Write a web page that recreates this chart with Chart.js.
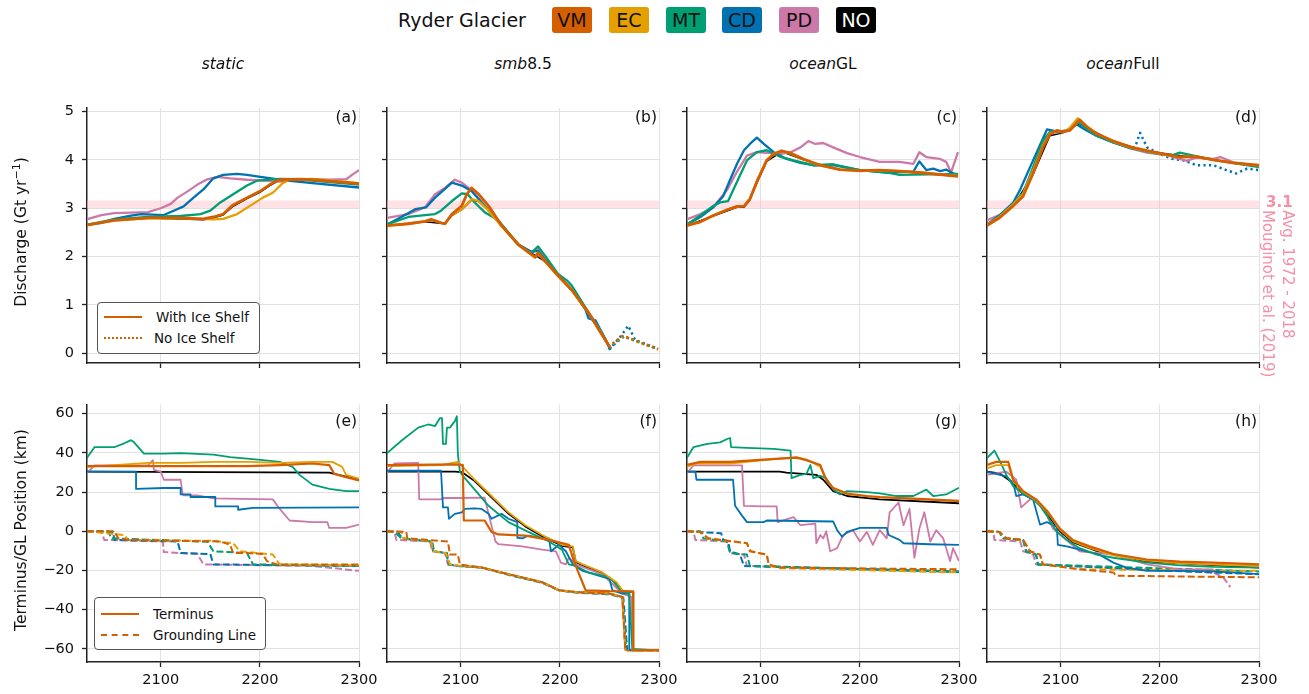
<!DOCTYPE html>
<html>
<head>
<meta charset="utf-8">
<script src="https://cdn.jsdelivr.net/npm/chart.js@4.4.1/dist/chart.umd.min.js"></script>
<style>
  body { margin:0; background:#fff; font-family:"DejaVu Sans", sans-serif; width:1309px; height:694px; position:relative; overflow:hidden; color:#111; }
  canvas { position:absolute; }
  .abs { position:absolute; white-space:nowrap; }
  .key { position:absolute; top:7px; width:40px; height:26px; line-height:26px; border-radius:3px; text-align:center; font-size:19px; }
  .coltitle { position:absolute; top:55px; width:200px; text-align:center; font-size:15.5px; }
  .plabel { position:absolute; width:60px; text-align:right; font-size:15.5px; line-height:20px; }
  .ylab { position:absolute; font-size:15.5px; transform:translate(-50%,-50%) rotate(-90deg); white-space:nowrap; }
  .leg { position:absolute; border:1px solid #555; border-radius:4px; background:#fff; }
  .leg .ln { position:absolute; left:6px; width:38px; height:0; }
  .leg .lt { position:absolute; left:58px; font-size:13.5px; line-height:16px; }
  .moug { position:absolute; color:#f78fa7; font-size:15px; }
</style>
</head>
<body>

<div class="abs" style="left:398px;top:7px;font-size:19px;line-height:26px;">Ryder Glacier</div>
<div id="keys"></div>
<div id="titles"></div>

<div class="ylab" style="left:20px;top:232px;">Discharge (Gt yr<sup style="font-size:11px">−1</sup>)</div>
<div class="ylab" style="left:21px;top:530px;">Terminus/GL Position (km)</div>

<div class="leg" style="left:97px;top:302px;width:161px;height:50px;">
  <div class="ln" style="top:13px;border-top:2.5px solid #D55E00;"></div>
  <div class="lt" style="top:6px;">With Ice Shelf</div>
  <div class="ln" style="top:34px;border-top:2.5px dotted #D55E00;"></div>
  <div class="lt" style="top:27px;left:56px;">No Ice Shelf</div>
</div>
<div class="leg" style="left:94px;top:597px;width:170px;height:51px;">
  <div class="ln" style="top:15px;border-top:2.5px solid #D55E00;"></div>
  <div class="lt" style="top:8px;">Terminus</div>
  <div class="ln" style="top:36px;border-top:2.5px dashed #D55E00;"></div>
  <div class="lt" style="top:29px;">Grounding Line</div>
</div>

<div class="moug" style="left:1266px;top:193px;font-weight:bold;font-size:15px;">3.1</div>
<div class="moug" style="left:1258px;top:210px;writing-mode:vertical-rl;line-height:20px;">Avg. 1972 - 2018<br>Mouginot et al. (2019)</div>

<script>
// ---------------- data ----------------
const models = ['VM', 'EC', 'MT', 'CD', 'PD', 'NO'];
const modelColors = ['#D55E00', '#E69F00', '#009E73', '#0072B2', '#CC79A7', '#000000'];
const scenarioItalic = ['static', 'smb', 'ocean', 'ocean'];
const scenarioRest = ['', '8.5', 'GL', 'Full'];
const panelLetters = ['a', 'b', 'c', 'd', 'e', 'f', 'g', 'h'];
const xTicks = [2100, 2200, 2300];
const dischargeTicks = [0, 1, 2, 3, 4, 5];
const positionTicks = [60, 40, 20, 0, -20, -40, -60];
const mouginotBand = [3.0, 3.16];

// (a) static - discharge
const a_VM = [[2025,2.65],[2053,2.75],[2087,2.8],[2120,2.8],[2143,2.78],[2153,2.82],[2163,2.88],[2173,3.07],[2187,3.22],[2200,3.35],[2210,3.49],[2220,3.59],[2240,3.6],[2253,3.59],[2300,3.51]];
const a_EC = [[2025,2.65],[2053,2.75],[2087,2.79],[2120,2.79],[2153,2.77],[2163,2.78],[2177,2.88],[2190,3.05],[2203,3.22],[2213,3.32],[2223,3.52],[2230,3.59],[2253,3.61],[2300,3.52]];
const a_MT = [[2025,2.66],[2053,2.77],[2087,2.82],[2120,2.84],[2140,2.88],[2150,2.95],[2160,3.12],[2173,3.29],[2187,3.47],[2197,3.57],[2220,3.61],[2237,3.6],[2253,3.57],[2300,3.49]];
const a_CD = [[2025,2.66],[2040,2.7],[2053,2.78],[2070,2.85],[2080,2.88],[2103,2.86],[2113,2.95],[2123,3.04],[2133,3.22],[2143,3.39],[2153,3.62],[2163,3.69],[2177,3.71],[2187,3.69],[2197,3.66],[2220,3.59],[2253,3.52],[2300,3.43]];
const a_PD = [[2025,2.77],[2040,2.86],[2053,2.9],[2087,2.92],[2100,3.0],[2110,3.09],[2117,3.22],[2127,3.35],[2137,3.49],[2147,3.6],[2157,3.65],[2170,3.62],[2187,3.59],[2203,3.57],[2220,3.55],[2237,3.59],[2253,3.6],[2270,3.59],[2287,3.6],[2293,3.69],[2300,3.79]];
const a_NO = [[2025,2.65],[2053,2.75],[2087,2.8],[2143,2.76],[2153,2.8],[2163,2.86],[2173,3.04],[2187,3.2],[2200,3.33],[2210,3.47],[2220,3.58],[2240,3.6],[2300,3.5]];

// (b) smb8.5 - discharge
const b_VM = [[2025,2.64],[2047,2.68],[2064,2.73],[2070,2.77],[2080,2.7],[2084,2.68],[2091,2.88],[2101,3.05],[2106,3.29],[2111,3.42],[2118,3.29],[2128,3.05],[2141,2.65],[2158,2.25],[2175,1.99],[2178,2.08],[2185,1.91],[2198,1.61],[2212,1.31],[2229,0.84],[2239,0.5],[2249,0.17],[2251,0.12]];
const b_EC = [[2025,2.64],[2047,2.68],[2064,2.73],[2070,2.76],[2080,2.7],[2084,2.69],[2091,2.86],[2101,2.98],[2111,3.19],[2118,3.15],[2128,2.95],[2141,2.63],[2158,2.24],[2175,1.98],[2178,2.06],[2185,1.9],[2198,1.6],[2212,1.3],[2229,0.83],[2239,0.5],[2249,0.17],[2251,0.12]];
const b_MT = [[2025,2.66],[2047,2.82],[2064,2.86],[2074,2.88],[2080,2.95],[2091,3.15],[2101,3.31],[2107,3.29],[2114,3.12],[2124,2.92],[2138,2.75],[2158,2.25],[2171,2.08],[2178,2.21],[2185,2.02],[2198,1.64],[2207,1.51],[2212,1.4],[2229,0.84],[2242,0.44],[2251,0.1]];
const b_CD = [[2025,2.66],[2040,2.82],[2054,2.98],[2065,3.02],[2074,3.22],[2084,3.4],[2091,3.53],[2101,3.47],[2111,3.35],[2124,3.05],[2141,2.65],[2158,2.25],[2171,2.1],[2178,2.12],[2185,1.93],[2198,1.62],[2215,1.24],[2225,0.95],[2229,0.72],[2236,0.68],[2242,0.44],[2251,0.07]];
const b_PD = [[2025,2.8],[2047,2.88],[2064,3.02],[2074,3.29],[2084,3.42],[2094,3.59],[2101,3.53],[2111,3.37],[2124,3.05],[2141,2.65],[2158,2.25],[2171,2.1],[2178,2.15],[2185,1.95],[2198,1.64],[2215,1.24],[2229,0.84],[2242,0.44],[2251,0.1]];
const b_NO = [[2025,2.64],[2064,2.72],[2084,2.68],[2091,2.85],[2101,2.97],[2111,3.17],[2118,3.14],[2128,2.95],[2141,2.63],[2158,2.24],[2185,1.9],[2212,1.3],[2239,0.5],[2251,0.12]];
const b_VM_ns = [[2249,0.13],[2256,0.25],[2264,0.37],[2269,0.32],[2282,0.22],[2299,0.09]];
const b_EC_ns = [[2249,0.12],[2256,0.24],[2264,0.36],[2270,0.31],[2282,0.21],[2299,0.08]];
const b_MT_ns = [[2250,0.1],[2257,0.23],[2265,0.35],[2271,0.3],[2283,0.2],[2299,0.09]];
const b_CD_ns = [[2249,0.08],[2255,0.2],[2262,0.37],[2269,0.57],[2276,0.27],[2282,0.23],[2299,0.09]];
const b_PD_ns = [[2250,0.1],[2257,0.22],[2264,0.35],[2270,0.3],[2283,0.21],[2299,0.09]];

// (c) oceanGL - discharge
const c_VM = [[2025,2.64],[2039,2.72],[2052,2.85],[2066,2.97],[2076,3.04],[2083,3.04],[2089,3.19],[2096,3.55],[2106,3.99],[2113,4.12],[2121,4.19],[2130,4.14],[2143,4.02],[2160,3.89],[2180,3.8],[2200,3.78],[2220,3.79],[2240,3.77],[2260,3.74],[2299,3.66]];
const c_EC = [[2025,2.65],[2039,2.72],[2052,2.85],[2066,2.97],[2076,3.03],[2083,3.05],[2089,3.2],[2096,3.56],[2106,4.0],[2113,4.13],[2121,4.18],[2130,4.13],[2143,4.01],[2160,3.88],[2180,3.8],[2200,3.77],[2220,3.79],[2240,3.77],[2260,3.74],[2299,3.67]];
const c_MT = [[2025,2.66],[2039,2.85],[2052,3.05],[2059,3.12],[2067,3.15],[2076,3.55],[2086,3.99],[2096,4.16],[2106,4.2],[2119,4.07],[2133,3.99],[2153,3.89],[2173,3.91],[2200,3.79],[2227,3.74],[2240,3.69],[2299,3.71]];
const c_CD = [[2025,2.66],[2039,2.82],[2052,3.02],[2062,3.25],[2069,3.59],[2076,3.92],[2083,4.2],[2089,4.33],[2096,4.46],[2103,4.33],[2113,4.16],[2126,4.02],[2140,3.94],[2153,3.89],[2173,3.89],[2200,3.79],[2227,3.74],[2254,3.76],[2260,3.97],[2267,3.79],[2274,3.82],[2281,3.77],[2287,3.8],[2294,3.72],[2299,3.69]];
const c_PD = [[2025,2.77],[2039,2.88],[2052,3.02],[2066,3.38],[2076,3.76],[2086,4.09],[2096,4.16],[2109,4.14],[2119,4.12],[2130,4.16],[2140,4.26],[2148,4.39],[2155,4.33],[2163,4.35],[2173,4.26],[2187,4.14],[2200,4.06],[2220,3.96],[2240,3.96],[2254,3.92],[2260,4.16],[2267,4.06],[2281,4.02],[2287,3.96],[2292,3.74],[2299,4.16]];
const c_NO = [[2025,2.64],[2052,2.84],[2076,3.02],[2083,3.02],[2089,3.17],[2096,3.52],[2106,3.97],[2121,4.17],[2143,4.0],[2180,3.79],[2240,3.76],[2299,3.66]];

// (d) oceanFull - discharge
const d_VM = [[2025,2.64],[2038,2.8],[2052,3.05],[2062,3.25],[2072,3.72],[2082,4.26],[2089,4.53],[2096,4.61],[2102,4.58],[2109,4.61],[2116,4.76],[2119,4.83],[2126,4.69],[2136,4.54],[2153,4.39],[2170,4.27],[2187,4.19],[2207,4.11],[2220,4.06],[2237,4.07],[2254,4.0],[2274,3.94],[2300,3.89]];
const d_EC = [[2025,2.65],[2038,2.82],[2052,3.08],[2062,3.3],[2072,3.78],[2082,4.3],[2089,4.55],[2096,4.6],[2102,4.57],[2109,4.66],[2117,4.86],[2126,4.7],[2136,4.55],[2153,4.38],[2170,4.26],[2187,4.18],[2207,4.1],[2220,4.06],[2237,4.07],[2254,4.0],[2274,3.94],[2300,3.88]];
const d_MT = [[2025,2.65],[2038,2.82],[2052,3.1],[2062,3.32],[2072,3.85],[2082,4.4],[2089,4.58],[2096,4.6],[2102,4.58],[2109,4.62],[2116,4.8],[2126,4.65],[2136,4.5],[2153,4.36],[2170,4.25],[2187,4.17],[2200,4.12],[2213,4.1],[2220,4.15],[2227,4.12],[2254,4.0],[2300,3.85]];
const d_CD = [[2025,2.66],[2038,2.85],[2052,3.12],[2059,3.39],[2072,3.99],[2086,4.63],[2091,4.61],[2096,4.58],[2106,4.61],[2116,4.73],[2126,4.61],[2136,4.5],[2153,4.36],[2173,4.23]];
const d_PD = [[2025,2.75],[2038,2.86],[2052,3.08],[2062,3.3],[2072,3.8],[2082,4.35],[2089,4.58],[2096,4.57],[2102,4.58],[2109,4.62],[2117,4.8],[2126,4.66],[2136,4.5],[2153,4.36],[2170,4.24],[2187,4.15],[2207,4.1],[2220,4.02],[2227,3.98],[2237,4.05],[2254,4.02],[2261,4.06],[2274,3.95],[2300,3.87]];
const d_NO = [[2025,2.64],[2052,3.05],[2072,3.7],[2089,4.5],[2102,4.56],[2116,4.74],[2126,4.68],[2153,4.38],[2187,4.18],[2254,4.0],[2300,3.88]];
const d_CD_ns = [[2173,4.23],[2176,4.33],[2180,4.56],[2187,4.26],[2200,4.12],[2213,4.02],[2224,3.99],[2237,3.89],[2254,3.89],[2267,3.79],[2277,3.72],[2288,3.82],[2300,3.79]];

// (e) static - terminus / grounding line
const e_VM = [[2025,33.3],[2087,33.3],[2187,33.3],[2220,33.8],[2253,34.6],[2270,33.8],[2275,29.3],[2287,27.6],[2300,26]];
const e_EC = [[2025,32.9],[2053,33.8],[2087,34.9],[2120,34.9],[2153,35.4],[2187,35.4],[2220,34.9],[2253,35.4],[2273,35.4],[2283,32.9],[2287,28.8],[2300,26.8]];
const e_MT = [[2025,37.1],[2033,42.9],[2053,42.9],[2063,44.9],[2070,46.5],[2073,45.4],[2083,39.6],[2103,39.6],[2120,39.9],[2153,39.1],[2170,37.9],[2187,37.1],[2203,36.3],[2220,35.4],[2233,32.9],[2240,28.8],[2253,23.8],[2270,21.7],[2287,20.5],[2300,20.5]];
const e_CD = [[2025,30.4],[2075,30.4],[2075,21.6],[2103,22.1],[2120,22.1],[2120,18.8],[2130,18.8],[2130,17.5],[2155,17.5],[2155,12.7],[2178,12.7],[2178,11],[2193,12],[2300,12.2]];
const e_PD = [[2025,29.3],[2033,33.6],[2087,33.6],[2092,36.3],[2093,31.3],[2100,30.4],[2103,26.3],[2120,26.3],[2122,18.8],[2123,18.3],[2137,18.3],[2153,16.8],[2213,16.3],[2220,11.4],[2230,5.5],[2253,4.7],[2268,4.7],[2270,1.7],[2287,1.7],[2300,3.4]];
const e_NO = [[2025,30.4],[2270,29.9],[2275,29.3],[2300,26.3]];
const e_VM_gl = [[2025,0],[2053,0],[2057,-3.6],[2067,-4.4],[2120,-4.9],[2160,-5.2],[2170,-6.9],[2173,-11.1],[2187,-11.1],[2203,-11.6],[2207,-15.2],[2217,-16.9],[2300,-16.9]];
const e_EC_gl = [[2025,0],[2063,-1.9],[2067,-4.4],[2153,-4.9],[2173,-6.1],[2180,-10.2],[2213,-11.9],[2220,-16.9],[2300,-17.4]];
const e_MT_gl = [[2025,0],[2047,0],[2050,-3.6],[2147,-5.3],[2153,-10.2],[2187,-11.1],[2193,-16.9],[2300,-17.7]];
const e_CD_gl = [[2025,0],[2052,-0.3],[2053,-4.4],[2117,-5.2],[2120,-11.1],[2150,-11.6],[2153,-16.9],[2300,-17.7]];
const e_PD_gl = [[2025,0],[2040,-0.3],[2043,-4.4],[2102,-5.2],[2103,-10.6],[2137,-11.6],[2143,-16.9],[2253,-17.7],[2300,-20.2]];

// (f) smb8.5 - terminus / grounding line
const f_VM = [[2025,33.8],[2097,34.1],[2102,33.8],[2103,5.5],[2124,5.5],[2131,-0.3],[2138,-1.6],[2165,-2.2],[2189,-4.4],[2209,-6.9],[2213,-13.5],[2218,-20.2],[2226,-30.1],[2250,-30.5],[2274,-30.6],[2274,-60.8],[2300,-60.8]];
const f_EC = [[2025,33.3],[2080,33.8],[2097,35.4],[2102,32.9],[2114,26.3],[2131,18],[2148,9.7],[2165,3.1],[2182,-1.9],[2202,-6.9],[2213,-7.7],[2216,-15.2],[2223,-16.9],[2243,-21],[2257,-26],[2263,-30.1],[2274,-31],[2274,-60.8],[2300,-60.8]];
const f_MT = [[2025,39.6],[2040,46.2],[2057,52.9],[2067,54.5],[2074,53.7],[2079,57.8],[2081,57.8],[2082,44.6],[2085,44.6],[2086,52.9],[2089,52.9],[2094,56.2],[2096,58.7],[2097,39.6],[2099,30.4],[2104,27.1],[2114,21.3],[2128,13],[2148,4.7],[2168,-0.3],[2189,-5.2],[2202,-9.4],[2209,-16.9],[2216,-17.7],[2229,-21],[2250,-23.5],[2263,-31],[2270,-31.8],[2273,-60],[2300,-60.8]];
const f_CD = [[2025,30.9],[2080,30.9],[2082,12.2],[2087,12.2],[2088,6.4],[2094,8.9],[2101,9.7],[2104,11.4],[2114,11.7],[2121,11.4],[2128,8.9],[2131,6.4],[2141,8.9],[2148,6.4],[2157,4.7],[2157,-3.3],[2162,-3.6],[2168,-2.2],[2175,-2.8],[2189,-3.6],[2191,-10.2],[2199,-6.9],[2206,-10.2],[2213,-16.9],[2223,-20.2],[2250,-24.3],[2253,-30.1],[2263,-31.8],[2270,-31.8],[2270,-60],[2272,-60.8]];
const f_PD = [[2025,29.6],[2033,34.6],[2057,34.9],[2058,16.3],[2080,16.3],[2082,17],[2099,17],[2124,17.2],[2128,8.9],[2135,-5.2],[2138,-6.6],[2162,-7.7],[2182,-9.4],[2196,-10.2],[2201,-16],[2206,-16.9],[2209,-13.5],[2216,-16.9],[2243,-22],[2263,-31.8],[2272,-33.5],[2274,-60],[2274,-60.8]];
const f_NO = [[2025,30.4],[2094,30.4],[2101,30.2],[2114,25.6],[2131,17.3],[2148,9],[2165,2.5],[2182,-2.5],[2202,-7.4],[2213,-8.2],[2216,-15.6],[2223,-17.4],[2243,-21.5],[2257,-26.4],[2263,-30.4],[2274,-31.2],[2274,-60.8]];
const f_VM_gl = [[2025,0],[2045,-0.3],[2046,-3.6],[2067,-4.4],[2087,-5.2],[2089,-11.9],[2097,-11.9],[2099,-16.9],[2121,-18.5],[2148,-21.9],[2182,-26],[2199,-30.1],[2216,-31],[2250,-31.8],[2263,-33.5],[2266,-60.8],[2300,-60.8]];
const f_EC_gl = [[2025,0],[2040,-0.3],[2042,-3.6],[2070,-5],[2072,-10.2],[2085,-11.1],[2089,-16.9],[2100,-17.7],[2121,-18.5],[2148,-21.9],[2182,-26],[2199,-30.1],[2216,-31],[2250,-31.8],[2263,-33.5],[2266,-60.8]];
const f_MT_gl = [[2025,0],[2033,-0.3],[2040,-3.6],[2053,-4.4],[2070,-5.2],[2072,-10.2],[2085,-11.1],[2088,-16.9],[2097,-17.7],[2121,-18.5],[2148,-21.9],[2182,-26],[2199,-30.1],[2216,-31],[2250,-31.8],[2263,-33.5],[2267,-60.8]];
const f_CD_gl = [[2025,0],[2036,-0.3],[2041,-3.6],[2055,-4.4],[2071,-5.2],[2073,-10.2],[2086,-11.1],[2088,-16.9],[2098,-17.7],[2121,-18.5],[2148,-22.2],[2182,-26.3],[2199,-30.1],[2216,-31.3],[2250,-32.2],[2264,-33.8],[2268,-60.8]];
const f_PD_gl = [[2025,0],[2033,-0.3],[2035,-4.4],[2069,-5.2],[2071,-10.2],[2084,-11.1],[2087,-16.9],[2097,-17.7],[2121,-18.5],[2148,-21.9],[2182,-26],[2199,-30.1],[2216,-31],[2250,-31.8],[2263,-33.5],[2266,-60.8]];

// (g) oceanGL - terminus / grounding line
const g_VM = [[2025,33.8],[2039,35.4],[2069,35.4],[2103,36.6],[2119,37.1],[2136,37.6],[2146,36.3],[2160,33.8],[2166,26.3],[2173,22.1],[2187,19.3],[2207,18],[2220,17.5],[2254,16.7],[2300,15.5]];
const g_EC = [[2025,32.9],[2036,34.6],[2069,34.6],[2103,36.3],[2136,37.9],[2146,36.6],[2160,32.9],[2166,26],[2173,22],[2187,19],[2207,17.8],[2220,17.3],[2254,16.5],[2300,15.3]];
const g_MT = [[2025,37.1],[2032,42.9],[2046,44.6],[2059,45.4],[2066,47.1],[2069,47.6],[2070,42.9],[2086,42.6],[2113,42.1],[2130,41.2],[2131,27.1],[2140,28.8],[2146,29.3],[2150,33.8],[2153,27.1],[2160,28.3],[2166,27.1],[2173,21.3],[2180,18.8],[2187,20.5],[2207,20],[2220,19.3],[2237,18],[2254,18],[2267,21.3],[2274,18],[2287,18.8],[2300,22.2]];
const g_CD = [[2025,30.4],[2034,30.4],[2035,26.3],[2072,26.3],[2074,13],[2081,8],[2086,4.7],[2103,4.7],[2106,5.5],[2173,5],[2177,0.6],[2182,-2.8],[2187,-0.3],[2193,0.6],[2200,1.7],[2227,1.7],[2229,-1.9],[2240,-4.4],[2244,-6.1],[2270,-6.6],[2300,-6.9]];
const g_PD = [[2025,29.3],[2032,33.6],[2081,33.6],[2083,13],[2103,12.7],[2116,12.7],[2117,4.7],[2133,7.2],[2140,3.1],[2155,3.9],[2156,-6.1],[2160,-1.9],[2163,-3.6],[2166,0],[2170,-10.2],[2177,-8.6],[2183,-1.9],[2193,0.6],[2200,-5.2],[2207,-0.3],[2213,-6.9],[2220,0.6],[2227,-3.6],[2230,9.7],[2239,14.7],[2244,3.1],[2250,11.4],[2255,-13.5],[2260,1.4],[2265,9.7],[2271,-5.2],[2277,0.6],[2284,-3.6],[2291,-15.2],[2294,-8.6],[2300,-15.2]];
const g_NO = [[2025,30.4],[2119,30.4],[2126,29.9],[2156,28.8],[2163,26.3],[2173,20.5],[2187,18],[2220,16.3],[2300,14.3]];
const g_VM_gl = [[2025,0],[2039,-0.3],[2047,-3.6],[2086,-6.1],[2089,-10.2],[2106,-11.9],[2108,-16.9],[2119,-18.5],[2300,-19.4]];
const g_EC_gl = [[2025,0],[2039,-0.3],[2046,-3.6],[2086,-6.1],[2090,-10.2],[2106,-11.9],[2108,-17.4],[2119,-18.8],[2300,-21]];
const g_MT_gl = [[2025,0],[2039,0],[2042,-3.6],[2066,-5.2],[2069,-11.1],[2086,-11.9],[2089,-17.7],[2300,-20.5]];
const g_CD_gl = [[2025,0],[2060,-1],[2062,-4.4],[2067,-4.9],[2069,-10.2],[2079,-11.9],[2083,-17.7],[2300,-20.8]];
const g_PD_gl = [[2025,0],[2032,-0.3],[2034,-4.4],[2066,-5.2],[2069,-11.1],[2083,-11.9],[2086,-17.7],[2300,-20.5]];

// (h) oceanFull - terminus / grounding line
const h_VM = [[2025,33.8],[2035,35.4],[2047,35.4],[2052,26.3],[2062,20.5],[2075,16.3],[2086,10.5],[2099,1.4],[2112,-4.4],[2129,-7.7],[2153,-11.6],[2187,-14.4],[2220,-15.5],[2254,-16],[2300,-16.9]];
const h_EC = [[2025,32.1],[2035,33.8],[2047,33.8],[2052,25.5],[2062,20],[2075,15.8],[2086,10],[2099,0.8],[2112,-5],[2129,-8.5],[2153,-12.3],[2187,-15],[2220,-16.3],[2254,-17],[2300,-17.7]];
const h_MT = [[2025,37.1],[2033,41.2],[2038,36.3],[2045,28.8],[2052,23],[2062,19.3],[2072,16.3],[2079,13],[2086,8],[2096,-0.3],[2106,-4.4],[2119,-8.6],[2136,-11.9],[2153,-13.5],[2187,-16],[2220,-17.4],[2254,-18.2],[2300,-18.5]];
const h_CD = [[2025,30.4],[2045,28],[2052,24.6],[2055,18],[2062,18.8],[2072,16.3],[2079,3.4],[2086,4.7],[2096,2.2],[2097,-6.9],[2106,-7.7],[2119,-9.4],[2139,-11.9],[2153,-16],[2166,-18.5],[2187,-20.2],[2220,-20.2],[2254,-20.5],[2300,-21.9]];
const h_PD = [[2025,28.8],[2045,30.4],[2055,26.3],[2060,12.2],[2069,16.3],[2075,16.3],[2086,8],[2092,1.4],[2119,-10.2],[2153,-11.9],[2187,-16.9],[2220,-19.4],[2254,-19.4]];
const h_NO = [[2025,30.4],[2038,29.6],[2052,24.6],[2062,19],[2075,15.5],[2086,9],[2099,0],[2112,-5.5],[2136,-10],[2187,-15.5],[2300,-18.5]];
const h_VM_gl = [[2025,0],[2038,-0.3],[2045,-3.6],[2062,-4.4],[2069,-10.2],[2079,-11.9],[2082,-16.9],[2119,-19.4],[2153,-21],[2156,-22.7],[2300,-23.5]];
const h_EC_gl = [[2025,0],[2038,-0.3],[2045,-3.6],[2062,-4.4],[2069,-10.2],[2079,-11.9],[2082,-16.9],[2119,-19.4],[2300,-20.2]];
const h_MT_gl = [[2025,0],[2038,-0.3],[2042,-3.6],[2062,-4.4],[2065,-10.2],[2075,-11.9],[2077,-16.9],[2300,-20.5]];
const h_CD_gl = [[2025,0],[2038,-0.3],[2042,-3.6],[2062,-4.4],[2065,-10.2],[2075,-11.9],[2077,-16.9],[2200,-20],[2300,-21.9]];
const h_PD_gl = [[2025,0],[2032,-0.3],[2033,-4.4],[2059,-5.2],[2062,-10.2],[2072,-11.9],[2075,-16.9],[2220,-20.2],[2254,-21],[2264,-23.5],[2271,-28.5]];

// ---------------- panels ----------------
const topPanels = [
  { lines: [a_VM, a_EC, a_MT, a_CD, a_PD, a_NO], noShelf: [] },
  { lines: [b_VM, b_EC, b_MT, b_CD, b_PD, b_NO], noShelf: [b_VM_ns, b_EC_ns, b_MT_ns, b_CD_ns, b_PD_ns, null] },
  { lines: [c_VM, c_EC, c_MT, c_CD, c_PD, c_NO], noShelf: [] },
  { lines: [d_VM, d_EC, d_MT, d_CD, d_PD, d_NO], noShelf: [null, null, null, d_CD_ns, null, null] }
];
const bottomPanels = [
  { lines: [e_VM, e_EC, e_MT, e_CD, e_PD, e_NO], gl: [e_VM_gl, e_EC_gl, e_MT_gl, e_CD_gl, e_PD_gl] },
  { lines: [f_VM, f_EC, f_MT, f_CD, f_PD, f_NO], gl: [f_VM_gl, f_EC_gl, f_MT_gl, f_CD_gl, f_PD_gl] },
  { lines: [g_VM, g_EC, g_MT, g_CD, g_PD, g_NO], gl: [g_VM_gl, g_EC_gl, g_MT_gl, g_CD_gl, g_PD_gl] },
  { lines: [h_VM, h_EC, h_MT, h_CD, h_PD, h_NO], gl: [h_VM_gl, h_EC_gl, h_MT_gl, h_CD_gl, h_PD_gl] }
];

// layout
const colLeft = [87, 387, 687, 987];
const plotW = 272;
const rowTop = [101, 398];
const rowH = [262, 264];
const yLimits = [[-0.2, 5.08], [-66.7, 64.6]];
const X_MIN = 2025.5, X_MAX = 2300;
const FONT = 'DejaVu Sans';

// header keys and column titles
const keyLeft = [552, 609, 666, 722, 779, 836];
let html = '';
models.forEach((m, i) => {
  html += `<div class="key" style="left:${keyLeft[i]}px;background:${modelColors[i]};color:${m === 'NO' ? '#fff' : '#111'}">${m}</div>`;
});
document.getElementById('keys').innerHTML = html;
html = '';
scenarioItalic.forEach((s, i) => {
  html += `<div class="coltitle" style="left:${colLeft[i] + plotW / 2 - 100}px"><i>${s}</i>${scenarioRest[i]}</div>`;
});
panelLetters.forEach((p, i) => {
  const row = i < 4 ? 0 : 1, col = i % 4;
  const cy = row === 0 ? 117 : 421;
  html += `<div class="plabel" style="left:${colLeft[col] + plotW - 62}px;top:${cy - 10}px">(${p})</div>`;
});
document.getElementById('titles').innerHTML = html;

function lineSet(data, mi, kind, row) {
  let w;
  if (row === 0) w = mi === 0 ? 2.8 : (mi === 5 ? 1.4 : 2.3);
  else w = mi === 0 ? 2.2 : 1.8;
  const d = {
    data: data, borderColor: modelColors[mi], borderWidth: w,
    pointRadius: 0, tension: 0, fill: false, borderJoinStyle: 'round'
  };
  if (kind === 'ns') { d.borderDash = [2.2, 3.3]; d.borderWidth = 2.5; }
  if (kind === 'gl') { d.borderDash = [7, 3]; d.borderWidth = 2; }
  return d;
}

function fmt(v) {
  return v < 0 ? '\u2212' + Math.abs(v) : String(v);
}

function makePanel(row, col) {
  const datasets = [];
  if (row === 0) {
    const p = topPanels[col];
    p.lines.forEach((d, mi) => datasets.push(lineSet(d, mi, 'solid', 0)));
    p.noShelf.forEach((d, mi) => { if (d) datasets.push(lineSet(d, mi, 'ns', 0)); });
    datasets.push({ data: [[2000, mouginotBand[1]], [2400, mouginotBand[1]]], borderWidth: 0, pointRadius: 0,
                    fill: '+1', backgroundColor: 'rgba(255,182,193,0.4)' });
    datasets.push({ data: [[2000, mouginotBand[0]], [2400, mouginotBand[0]]], borderWidth: 0, pointRadius: 0, fill: false });
  } else {
    const p = bottomPanels[col];
    p.lines.forEach((d, mi) => datasets.push(lineSet(d, mi, 'solid', 1)));
    p.gl.forEach((d, mi) => datasets.push(lineSet(d, mi, 'gl', 1)));
  }

  const padTop = 10, padRight = 24, axisW = 60, axisH = 30;
  const cv = document.createElement('canvas');
  const W = axisW + plotW + padRight, H = padTop + rowH[row] + axisH;
  cv.width = W; cv.height = H;
  cv.style.width = W + 'px'; cv.style.height = H + 'px';
  cv.style.left = (colLeft[col] - axisW) + 'px';
  cv.style.top = (rowTop[row] - padTop) + 'px';
  document.body.insertBefore(cv, document.body.firstChild);

  const yt = row === 0 ? dischargeTicks : positionTicks;
  new Chart(cv, {
    type: 'line',
    data: { datasets },
    options: {
      responsive: false, animation: false, events: [],
      layout: { padding: { left: 0, right: padRight, top: padTop, bottom: 0 } },
      plugins: { legend: { display: false }, tooltip: { enabled: false } },
      scales: {
        x: {
          type: 'linear', min: X_MIN, max: X_MAX,
          afterBuildTicks: s => { s.ticks = xTicks.map(v => ({ value: v })); },
          afterFit: s => { s.height = axisH; },
          grid: { color: '#e2e2e2', lineWidth: 1, drawTicks: true, tickLength: 5, tickColor: '#222', tickWidth: 1.3 },
          border: { display: true, color: '#222', width: 1.5 },
          ticks: { autoSkip: false, maxRotation: 0, padding: 5, color: '#111',
                   font: { family: FONT, size: 14.5 },
                   callback: v => row === 1 ? String(v) : '' }
        },
        y: {
          type: 'linear', min: yLimits[row][0], max: yLimits[row][1],
          afterBuildTicks: s => { s.ticks = yt.map(v => ({ value: v })); },
          afterFit: s => { s.width = axisW; },
          grid: { color: '#e2e2e2', lineWidth: 1, drawTicks: true, tickLength: 5, tickColor: '#222', tickWidth: 1.3 },
          border: { display: true, color: '#222', width: 1.5 },
          ticks: { autoSkip: false, padding: 8, color: '#111',
                   font: { family: FONT, size: 14.5 },
                   callback: v => col === 0 ? fmt(v) : '' }
        }
      }
    }
  });
}

for (let r = 0; r < 2; r++) for (let c = 0; c < 4; c++) makePanel(r, c);
</script>
</body>
</html>
